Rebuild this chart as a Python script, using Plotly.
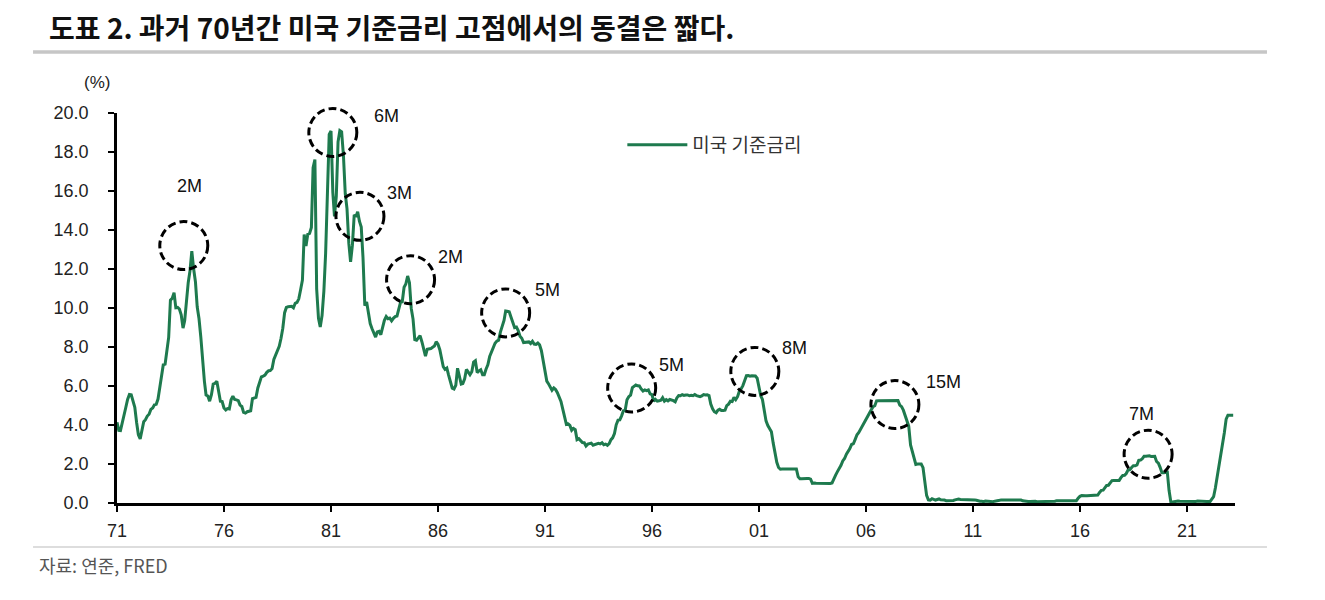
import pandas as pd
import plotly.graph_objects as go

# 미국 기준금리 (월평균, %), 1971-01 ~ 2023-03
fed_rate = [
    4.14, 3.72, 3.71, 4.15, 4.63, 4.91, 5.31, 5.57, 5.55, 5.20, 4.91, 4.14,  # 1971
    3.50, 3.29, 3.83, 4.17, 4.27, 4.46, 4.55, 4.80, 4.87, 5.04, 5.06, 5.33,  # 1972
    5.94, 6.58, 7.09, 7.12, 7.84, 8.49, 10.40, 10.50, 10.78, 10.01, 10.03, 9.95,  # 1973
    9.65, 8.97, 9.35, 10.51, 11.31, 11.93, 12.92, 12.01, 11.34, 10.06, 9.45, 8.53,  # 1974
    7.13, 6.24, 5.54, 5.49, 5.22, 5.55, 6.10, 6.14, 6.24, 5.82, 5.22, 5.20,  # 1975
    4.87, 4.77, 4.84, 4.82, 5.29, 5.48, 5.31, 5.29, 5.25, 5.02, 4.95, 4.65,  # 1976
    4.61, 4.68, 4.69, 4.73, 5.35, 5.39, 5.42, 5.90, 6.14, 6.47, 6.51, 6.56,  # 1977
    6.70, 6.78, 6.79, 6.89, 7.36, 7.60, 7.81, 8.04, 8.45, 8.96, 9.76, 10.03,  # 1978
    10.07, 10.06, 10.09, 10.01, 10.24, 10.29, 10.47, 10.94, 11.43, 13.77, 13.18, 13.78,  # 1979
    13.82, 14.13, 17.19, 17.61, 10.98, 9.47, 9.03, 9.61, 10.87, 12.81, 15.85, 18.90,  # 1980
    19.08, 15.93, 14.70, 15.72, 18.52, 19.10, 19.04, 17.82, 15.87, 15.08, 13.31, 12.37,  # 1981
    13.22, 14.78, 14.68, 14.94, 14.45, 14.15, 12.59, 10.12, 10.31, 9.71, 9.20, 8.95,  # 1982
    8.68, 8.51, 8.77, 8.80, 8.63, 8.98, 9.37, 9.56, 9.45, 9.48, 9.34, 9.47,  # 1983
    9.56, 9.59, 9.91, 10.29, 10.32, 11.06, 11.23, 11.64, 11.30, 9.99, 9.43, 8.38,  # 1984
    8.35, 8.50, 8.58, 8.27, 7.97, 7.53, 7.88, 7.90, 7.92, 7.99, 8.05, 8.27,  # 1985
    8.14, 7.86, 7.48, 6.99, 6.85, 6.92, 6.56, 6.17, 5.89, 5.85, 6.04, 6.91,  # 1986
    6.43, 6.10, 6.13, 6.37, 6.85, 6.73, 6.58, 6.73, 7.22, 7.29, 6.69, 6.77,  # 1987
    6.83, 6.58, 6.58, 6.87, 7.09, 7.51, 7.75, 8.01, 8.19, 8.30, 8.35, 8.76,  # 1988
    9.12, 9.36, 9.85, 9.84, 9.81, 9.53, 9.24, 8.99, 9.02, 8.84, 8.55, 8.45,  # 1989
    8.23, 8.24, 8.28, 8.26, 8.18, 8.29, 8.15, 8.13, 8.20, 8.11, 7.81, 7.31,  # 1990
    6.91, 6.25, 6.12, 5.91, 5.78, 5.90, 5.82, 5.66, 5.45, 5.21, 4.81, 4.43,  # 1991
    4.03, 4.06, 3.98, 3.73, 3.82, 3.76, 3.25, 3.30, 3.22, 3.10, 3.09, 2.92,  # 1992
    3.02, 3.03, 3.07, 2.96, 3.00, 3.04, 3.06, 3.03, 3.09, 2.99, 3.02, 2.96,  # 1993
    3.05, 3.25, 3.34, 3.56, 4.01, 4.25, 4.26, 4.47, 4.73, 4.76, 5.29, 5.45,  # 1994
    5.53, 5.92, 5.98, 6.05, 6.01, 6.00, 5.85, 5.74, 5.80, 5.76, 5.80, 5.60,  # 1995
    5.56, 5.22, 5.31, 5.22, 5.24, 5.27, 5.40, 5.22, 5.30, 5.24, 5.31, 5.29,  # 1996
    5.25, 5.19, 5.39, 5.51, 5.50, 5.56, 5.52, 5.54, 5.54, 5.50, 5.52, 5.50,  # 1997
    5.56, 5.51, 5.49, 5.45, 5.49, 5.56, 5.54, 5.55, 5.51, 5.07, 4.83, 4.68,  # 1998
    4.63, 4.76, 4.81, 4.74, 4.74, 4.76, 4.99, 5.07, 5.22, 5.20, 5.42, 5.30,  # 1999
    5.45, 5.73, 5.85, 6.02, 6.27, 6.53, 6.54, 6.50, 6.52, 6.51, 6.51, 6.40,  # 2000
    5.98, 5.49, 5.31, 4.80, 4.21, 3.97, 3.77, 3.65, 3.07, 2.49, 2.09, 1.82,  # 2001
    1.73, 1.74, 1.73, 1.75, 1.75, 1.75, 1.73, 1.74, 1.75, 1.75, 1.34, 1.24,  # 2002
    1.24, 1.26, 1.25, 1.26, 1.26, 1.22, 1.01, 1.03, 1.01, 1.01, 1.00, 0.98,  # 2003
    1.00, 1.01, 1.00, 1.00, 1.00, 1.03, 1.26, 1.43, 1.61, 1.76, 1.93, 2.16,  # 2004
    2.28, 2.50, 2.63, 2.79, 3.00, 3.04, 3.26, 3.50, 3.62, 3.78, 4.00, 4.16,  # 2005
    4.29, 4.49, 4.59, 4.79, 4.94, 4.99, 5.24, 5.25, 5.25, 5.25, 5.25, 5.24,  # 2006
    5.25, 5.26, 5.26, 5.25, 5.25, 5.25, 5.26, 5.02, 4.94, 4.76, 4.49, 4.24,  # 2007
    3.94, 2.98, 2.61, 2.28, 1.98, 2.00, 2.01, 2.00, 1.81, 0.97, 0.39, 0.16,  # 2008
    0.15, 0.22, 0.18, 0.15, 0.18, 0.21, 0.16, 0.16, 0.15, 0.12, 0.12, 0.12,  # 2009
    0.11, 0.13, 0.16, 0.20, 0.20, 0.18, 0.18, 0.19, 0.19, 0.19, 0.19, 0.18,  # 2010
    0.17, 0.16, 0.14, 0.10, 0.09, 0.09, 0.07, 0.10, 0.08, 0.07, 0.08, 0.07,  # 2011
    0.08, 0.10, 0.13, 0.14, 0.16, 0.16, 0.16, 0.13, 0.14, 0.16, 0.16, 0.16,  # 2012
    0.14, 0.15, 0.14, 0.15, 0.11, 0.09, 0.09, 0.08, 0.08, 0.09, 0.08, 0.09,  # 2013
    0.07, 0.07, 0.08, 0.09, 0.09, 0.10, 0.09, 0.09, 0.09, 0.09, 0.09, 0.12,  # 2014
    0.11, 0.11, 0.11, 0.12, 0.12, 0.13, 0.13, 0.14, 0.14, 0.12, 0.12, 0.24,  # 2015
    0.34, 0.38, 0.36, 0.37, 0.37, 0.38, 0.39, 0.40, 0.40, 0.40, 0.41, 0.54,  # 2016
    0.65, 0.66, 0.79, 0.90, 0.91, 1.04, 1.15, 1.16, 1.15, 1.15, 1.16, 1.30,  # 2017
    1.41, 1.42, 1.51, 1.69, 1.70, 1.82, 1.91, 1.91, 1.95, 2.19, 2.20, 2.27,  # 2018
    2.40, 2.40, 2.41, 2.42, 2.39, 2.38, 2.40, 2.13, 2.04, 1.83, 1.55, 1.55,  # 2019
    1.55, 1.58, 0.65, 0.05, 0.05, 0.08, 0.09, 0.10, 0.09, 0.09, 0.09, 0.09,  # 2020
    0.09, 0.08, 0.07, 0.07, 0.06, 0.08, 0.10, 0.09, 0.08, 0.08, 0.08, 0.08,  # 2021
    0.08, 0.08, 0.20, 0.33, 0.77, 1.30, 1.90, 2.50, 3.00, 3.60, 4.30, 4.50,  # 2022
    4.50, 4.50, 4.50,  # 2023
]
months = pd.date_range("1971-01-01", periods=len(fed_rate), freq="MS")

# 고점 동결 기간 표시 (원 중심, 라벨)
peak_dates = ["1974-02-14", "1981-02-01", "1982-05-10", "1984-09-20", "1989-03-01",
              "1995-01-20", "2000-10-22", "2007-05-10", "2019-03-10"]
peak_levels = [13.2, 19.0, 14.7, 11.45, 9.75, 5.9, 6.75, 5.05, 2.5]
peak_labels = ["2M", "6M", "3M", "2M", "5M", "5M", "8M", "15M", "7M"]
label_offsets = [(6, 60), (54, 17), (40, 23), (40, 23), (42, 23),
                 (40, 23), (40, 23), (49, 23), (-7, 40)]

tick_years = ["71", "76", "81", "86", "91", "96", "01", "06", "11", "16", "21"]
tick_dates = [f"{1971 + 5 * i}-01-01" for i in range(len(tick_years))]
y_range = [0, 20]

green = "#1e7a4e"
font = "Liberation Sans, Arial, sans-serif"
kfont = "Noto Sans CJK KR, sans-serif"

fig = go.Figure()
fig.add_trace(
    go.Scatter(
        x=months,
        y=fed_rate,
        mode="lines",
        name="미국 기준금리",
        line=dict(color=green, width=3),
    )
)

shapes = []
annotations = []
for d, v, lab, (dx, dy) in zip(peak_dates, peak_levels, peak_labels, label_offsets):
    # y는 paper 기준으로 두어 플롯 위쪽에서 원이 잘리지 않도록 함
    shapes.append(dict(
        type="circle", xref="x", yref="paper",
        xsizemode="pixel", ysizemode="pixel",
        xanchor=d, yanchor=(v - y_range[0]) / (y_range[1] - y_range[0]),
        x0=-24, x1=24, y0=-24, y1=24,
        line=dict(color="black", width=3, dash="8px,4px"),
    ))
    annotations.append(dict(
        x=d, y=v, xref="x", yref="y", text=lab, showarrow=False,
        xshift=dx, yshift=dy, font=dict(family=font, size=18, color="#111"),
    ))

# 제목 아래 / 출처 위 회색 선
shapes.append(dict(type="line", xref="paper", yref="paper", x0=-0.0751, x1=1.0286,
                   y0=1.1564, y1=1.1564, line=dict(color="#c6c6c6", width=3.5)))
shapes.append(dict(type="line", xref="paper", yref="paper", x0=-0.0751, x1=1.0286,
                   y0=-0.1128, y1=-0.1128, line=dict(color="#d2d2d2", width=1.5)))

annotations += [
    dict(x=-0.0626, y=1.2205, xref="paper", yref="paper", xanchor="left", yanchor="middle",
         text="<b>도표 2. 과거 70년간 미국 기준금리 고점에서의 동결은 짧다.</b>",
         showarrow=False, font=dict(family=kfont, size=28, color="#111")),
    dict(x=-0.018, y=1.079, xref="paper", yref="paper", xanchor="center", yanchor="middle",
         text="(%)", showarrow=False, font=dict(family=font, size=17, color="#222")),
    dict(x=-0.0716, y=-0.159, xref="paper", yref="paper", xanchor="left", yanchor="middle",
         text="자료: 연준, FRED", showarrow=False, font=dict(family=kfont, size=18, color="#555")),
]

# 페이지 기본 여백(8px)을 고려한 플롯 영역
fig.update_layout(
    width=1325,
    height=600,
    margin=dict(l=109, r=98, t=105, b=105),
    paper_bgcolor="white",
    plot_bgcolor="white",
    showlegend=True,
    legend=dict(x=0.452, y=0.918, xanchor="left", yanchor="middle",
                font=dict(family=kfont, size=19, color="#333"),
                bgcolor="rgba(0,0,0,0)", itemwidth=60),
    shapes=shapes,
    annotations=annotations,
    xaxis=dict(
        type="date",
        range=["1971-01-01", "2023-04-01"],
        tickvals=tick_dates,
        ticktext=tick_years,
        ticks="outside", ticklen=6, tickwidth=2, tickcolor="black",
        showline=True, linecolor="black", linewidth=2.5,
        showgrid=False, zeroline=False,
        ticklabelstandoff=4,
        tickfont=dict(family=font, size=18, color="#222"),
    ),
    yaxis=dict(
        range=y_range,
        tickvals=[0, 2, 4, 6, 8, 10, 12, 14, 16, 18, 20],
        tickformat=".1f",
        ticks="outside", ticklen=6, tickwidth=2, tickcolor="black",
        showline=True, linecolor="black", linewidth=2.5,
        showgrid=False, zeroline=False,
        ticklabelstandoff=16,
        tickfont=dict(family=font, size=18, color="#222"),
    ),
)

fig.write_html("out.html")
